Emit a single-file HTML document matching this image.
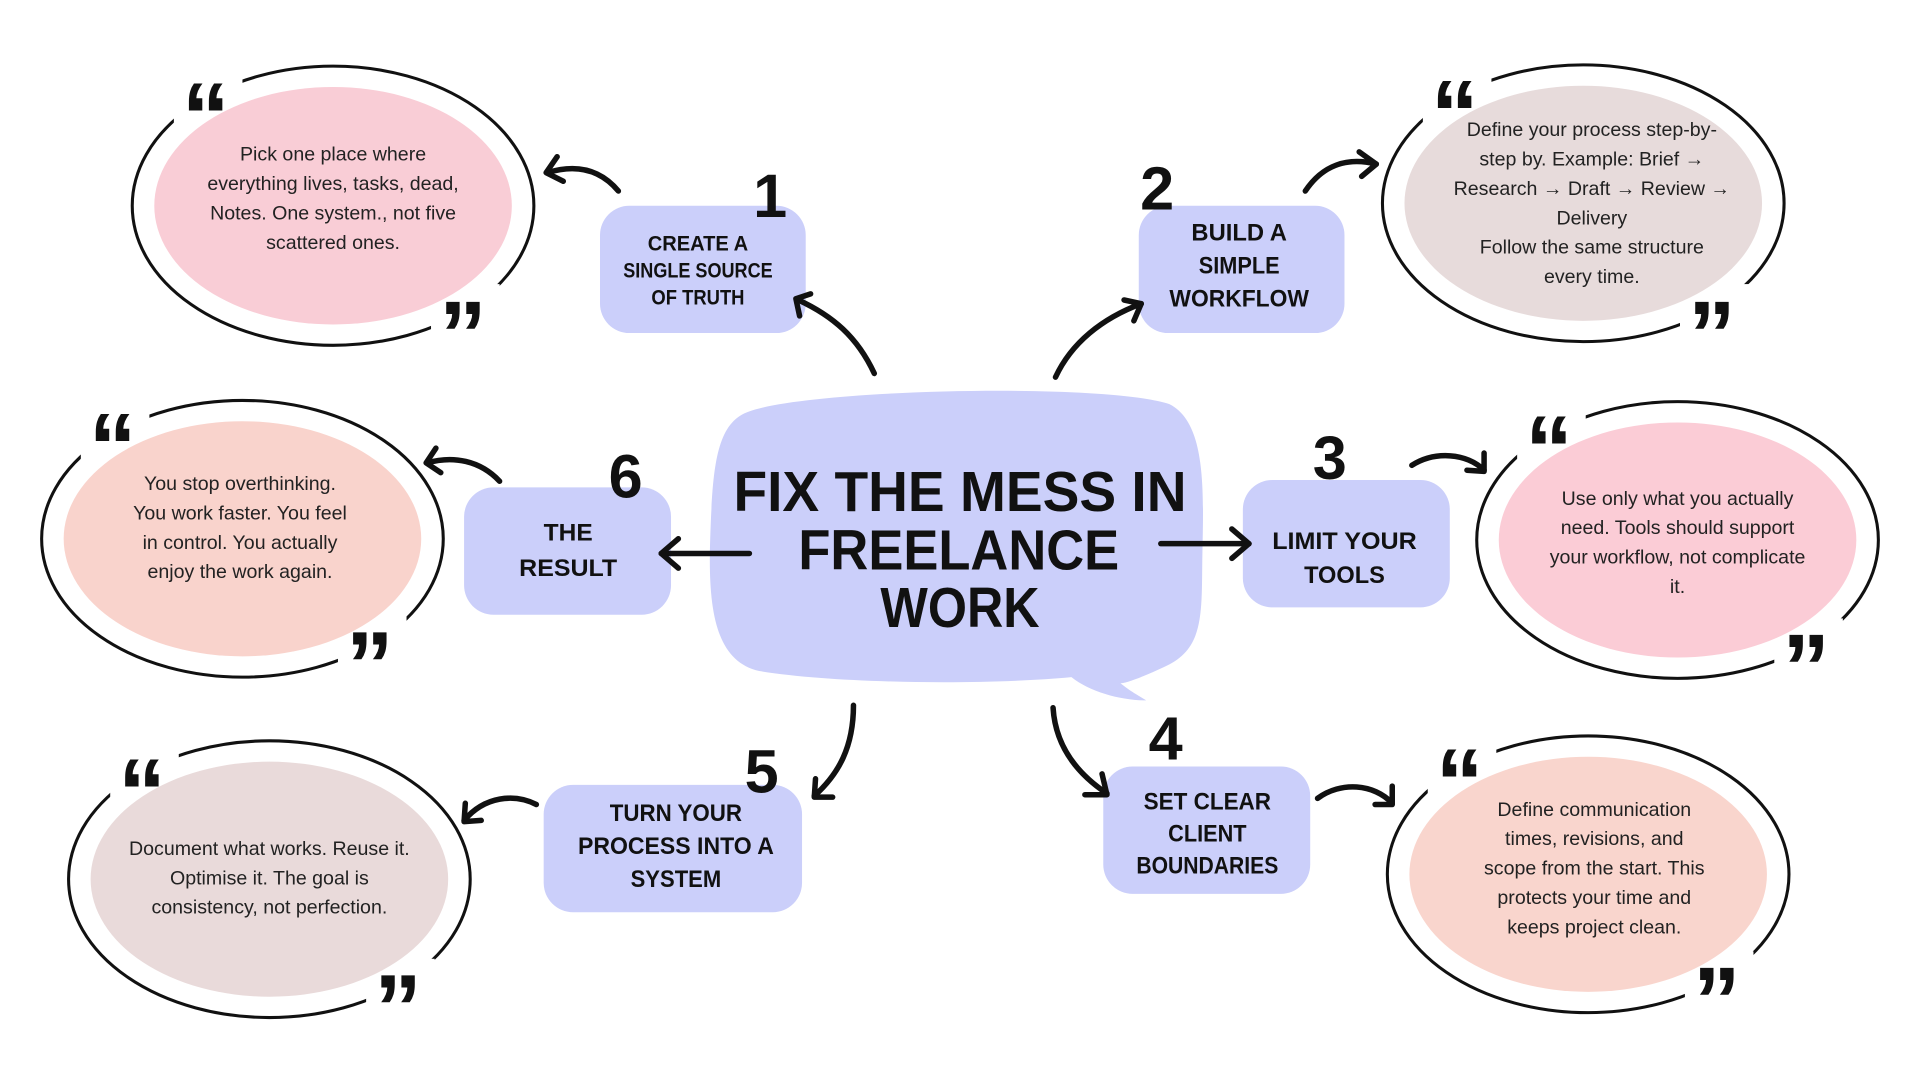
<!DOCTYPE html>
<html><head><meta charset="utf-8"><style>
html,body{margin:0;padding:0;background:#fff;width:1920px;height:1080px;overflow:hidden}
#w{width:1568px;height:882px;transform:scale(1.22449);transform-origin:0 0}
svg text{font-family:"Liberation Sans",sans-serif}
.b{font-size:16px;fill:#222;text-anchor:middle;dominant-baseline:middle}
.k{font-weight:bold;fill:#111;text-anchor:middle;dominant-baseline:middle}
.q{font-family:"Liberation Serif",serif !important;font-weight:bold;font-size:78px;fill:#111;text-anchor:middle}
.a{fill:none;stroke:#111;stroke-width:4.5;stroke-linecap:round;stroke-linejoin:round}
</style></head><body><div id="w">
<svg width="1568" height="882" viewBox="0 0 1568 882" xmlns="http://www.w3.org/2000/svg">
<!-- ellipses -->
<g stroke="#111" stroke-width="2.5">
<ellipse cx="272" cy="168" rx="164" ry="114" fill="none"/>
<ellipse cx="1293" cy="166" rx="164" ry="113" fill="none"/>
<ellipse cx="1370" cy="441" rx="164" ry="113" fill="none"/>
<ellipse cx="198" cy="440" rx="164" ry="113" fill="none"/>
<ellipse cx="220" cy="718" rx="164" ry="113" fill="none"/>
<ellipse cx="1297" cy="714" rx="164" ry="113" fill="none"/>
</g>
<g fill="#fff">
<rect x="142" y="62" width="56" height="44"/><rect x="352" y="232" width="56" height="48"/>
<rect x="1162" y="60" width="56" height="44"/><rect x="1372" y="232" width="56" height="48"/>
<rect x="1239" y="334" width="56" height="44"/><rect x="1449" y="505" width="56" height="48"/>
<rect x="66" y="332" width="56" height="44"/><rect x="276" y="503" width="56" height="48"/>
<rect x="90" y="614" width="56" height="44"/><rect x="299" y="783" width="56" height="48"/>
<rect x="1166" y="606" width="56" height="44"/><rect x="1376" y="777" width="56" height="48"/>
</g>
<ellipse cx="272" cy="168" rx="146" ry="97" fill="#f9cdd6"/>
<ellipse cx="1293" cy="166" rx="146" ry="96" fill="#e7dbdb"/>
<ellipse cx="1370" cy="441" rx="146" ry="96" fill="#fbccd6"/>
<ellipse cx="198" cy="440" rx="146" ry="96" fill="#f9d3cc"/>
<ellipse cx="220" cy="718" rx="146" ry="96" fill="#e9dada"/>
<ellipse cx="1297" cy="714" rx="146" ry="96" fill="#f9d5cd"/>
<g class="q">
<text x="168" y="122">“</text><text x="378" y="300">”</text>
<text x="1188" y="120">“</text><text x="1398" y="300">”</text>
<text x="1265" y="394">“</text><text x="1475" y="572">”</text>
<text x="92" y="392">“</text><text x="302" y="570">”</text>
<text x="116" y="674">“</text><text x="325" y="850">”</text>
<text x="1192" y="666">“</text><text x="1402" y="844">”</text>
</g>
<g class="b">
<text x="272" y="127">Pick one place where</text><text x="272" y="151">everything lives, tasks, dead,</text><text x="272" y="175">Notes. One system., not five</text><text x="272" y="199">scattered ones.</text>
<text x="1300" y="107">Define your process step-by-</text><text x="1300" y="131">step by. Example: Brief →</text><text x="1300" y="155">Research → Draft → Review →</text><text x="1300" y="179">Delivery</text><text x="1300" y="203">Follow the same structure</text><text x="1300" y="227">every time.</text>
<text x="1370" y="408">Use only what you actually</text><text x="1370" y="432">need. Tools should support</text><text x="1370" y="456">your workflow, not complicate</text><text x="1370" y="480">it.</text>
<text x="196" y="396">You stop overthinking.</text><text x="196" y="420">You work faster. You feel</text><text x="196" y="444">in control. You actually</text><text x="196" y="468">enjoy the work again.</text>
<text x="220" y="694">Document what works. Reuse it.</text><text x="220" y="718">Optimise it. The goal is</text><text x="220" y="742">consistency, not perfection.</text>
<text x="1302" y="662">Define communication</text><text x="1302" y="686">times, revisions, and</text><text x="1302" y="710">scope from the start. This</text><text x="1302" y="734">protects your time and</text><text x="1302" y="758">keeps project clean.</text>
</g>
<!-- boxes -->
<g fill="#cbcffa">
<rect x="490" y="168" width="168" height="104" rx="24"/>
<rect x="930" y="168" width="168" height="104" rx="24"/>
<rect x="1015" y="392" width="169" height="104" rx="24"/>
<rect x="379" y="398" width="169" height="104" rx="24"/>
<rect x="444" y="641" width="211" height="104" rx="24"/>
<rect x="901" y="626" width="169" height="104" rx="24"/>
<path d="M612 336 C660 318 900 312 955 330 C985 345 983 400 982 450 C981 500 985 530 950 545 C935 552 920 558 915 558 C925 566 935 571 936 572 C915 572 890 565 875 553 C800 560 680 558 620 548 C585 540 578 500 580 440 C582 380 585 345 612 336Z"/>
</g>
<g class="k" font-size="17">
<text x="570" y="200" textLength="82" lengthAdjust="spacingAndGlyphs">CREATE A</text>
<text x="570" y="222" textLength="122" lengthAdjust="spacingAndGlyphs">SINGLE SOURCE</text>
<text x="570" y="244" textLength="76" lengthAdjust="spacingAndGlyphs">OF TRUTH</text>
</g>
<g class="k" font-size="20">
<text x="1012" y="191" textLength="78" lengthAdjust="spacingAndGlyphs">BUILD A</text>
<text x="1012" y="218" textLength="66" lengthAdjust="spacingAndGlyphs">SIMPLE</text>
<text x="1012" y="245" textLength="114" lengthAdjust="spacingAndGlyphs">WORKFLOW</text>
<text x="1098" y="443" textLength="118" lengthAdjust="spacingAndGlyphs">LIMIT YOUR</text>
<text x="1098" y="471" textLength="66" lengthAdjust="spacingAndGlyphs">TOOLS</text>
<text x="464" y="436" textLength="40" lengthAdjust="spacingAndGlyphs">THE</text>
<text x="464" y="465" textLength="80" lengthAdjust="spacingAndGlyphs">RESULT</text>
<text x="552" y="665" textLength="108" lengthAdjust="spacingAndGlyphs">TURN YOUR</text>
<text x="552" y="692" textLength="160" lengthAdjust="spacingAndGlyphs">PROCESS INTO A</text>
<text x="552" y="719" textLength="74" lengthAdjust="spacingAndGlyphs">SYSTEM</text>
<text x="986" y="656" textLength="104" lengthAdjust="spacingAndGlyphs">SET CLEAR</text>
<text x="986" y="682" textLength="64" lengthAdjust="spacingAndGlyphs">CLIENT</text>
<text x="986" y="708" textLength="116" lengthAdjust="spacingAndGlyphs">BOUNDARIES</text>
</g>
<g class="k" font-size="50">
<text x="629" y="164">1</text><text x="945" y="158">2</text><text x="1086" y="378">3</text>
<text x="952" y="607">4</text><text x="622" y="634">5</text><text x="511" y="393">6</text>
</g>
<g class="k" font-size="46">
<text x="784" y="405" textLength="370" lengthAdjust="spacingAndGlyphs">FIX THE MESS IN</text>
<text x="783" y="453" textLength="262" lengthAdjust="spacingAndGlyphs">FREELANCE</text>
<text x="784" y="500" textLength="130" lengthAdjust="spacingAndGlyphs">WORK</text>
</g>
<!-- arrows -->
<g class="a">
<path d="M714 305 C700 275 680 258 652 245"/><path d="M662 240 L650 244 L653 258"/>
<path d="M862 308 C875 280 900 260 932 248"/><path d="M918 245 L932 248 L926 262"/>
<path d="M948 444 L1020 444"/><path d="M1006 432 L1020 444 L1006 456"/>
<path d="M612 452 L540 452"/><path d="M554 440 L540 452 L554 464"/>
<path d="M697 576 C697 610 685 632 665 650"/><path d="M666 636 L665 651 L680 651"/>
<path d="M860 578 C862 610 880 632 904 648"/><path d="M886 649 L904 649 L900 632"/>
<path d="M505 156 C490 138 470 134 447 141"/><path d="M455 128 L446 141 L460 148"/>
<path d="M1066 156 C1080 135 1100 128 1124 134"/><path d="M1110 124 L1124 134 L1112 144"/>
<path d="M1153 380 C1172 368 1198 370 1212 384"/><path d="M1212 370 L1212 385 L1198 384"/>
<path d="M408 393 C392 376 370 372 349 378"/><path d="M356 366 L348 378 L360 386"/>
<path d="M438 657 C420 648 396 650 379 670"/><path d="M380 656 L379 671 L393 670"/>
<path d="M1076 652 C1095 638 1122 640 1137 656"/><path d="M1137 642 L1137 657 L1123 657"/>
</g>
</svg></div></body></html>
